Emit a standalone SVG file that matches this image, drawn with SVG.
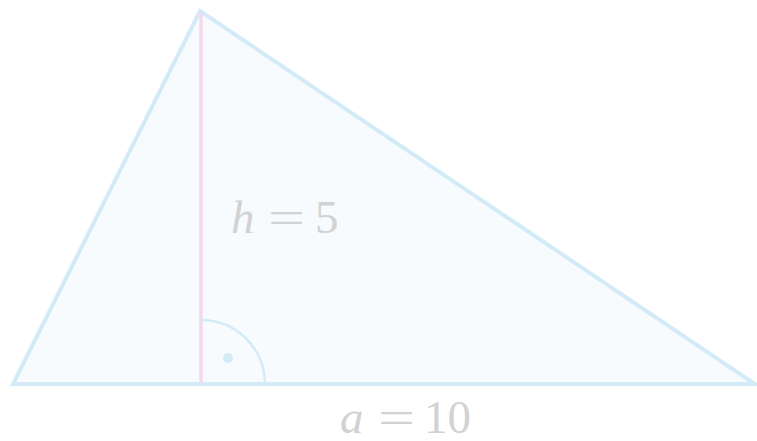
<svg xmlns="http://www.w3.org/2000/svg" width="757" height="441" viewBox="0 0 757 441">
<style>
.lbl{font-family:"Liberation Serif","DejaVu Serif",serif;font-size:47px;fill:#d2d2d2}
.v{font-style:italic}
</style>
<rect width="757" height="441" fill="#ffffff"/>
<g id="triangle">
<polygon points="200,11 13,384 755,384" fill="#f7fbfe" stroke="#d3ebf7" stroke-width="4" stroke-linejoin="miter"/>
</g>
<g id="connectors">
<line x1="201" y1="13" x2="201" y2="383" stroke="#f3d8ef" stroke-width="3.5"/>
<path d="M201,320 A64,64 0 0 1 265,384" fill="none" stroke="#d3ebf7" stroke-width="2.5"/>
<circle cx="228" cy="358" r="5" fill="#d3ebf7"/>
</g>
<g id="label-h">
<text class="lbl v" x="231" y="233">h</text>
<text class="lbl" transform="translate(268,233) scale(1.4,1)">=</text>
<text class="lbl" x="315" y="233">5</text>
</g>
<g id="label-a">
<text class="lbl v" x="340" y="433">a</text>
<text class="lbl" transform="translate(378,433) scale(1.4,1)">=</text>
<text class="lbl" x="424" y="433">10</text>
</g>
</svg>
